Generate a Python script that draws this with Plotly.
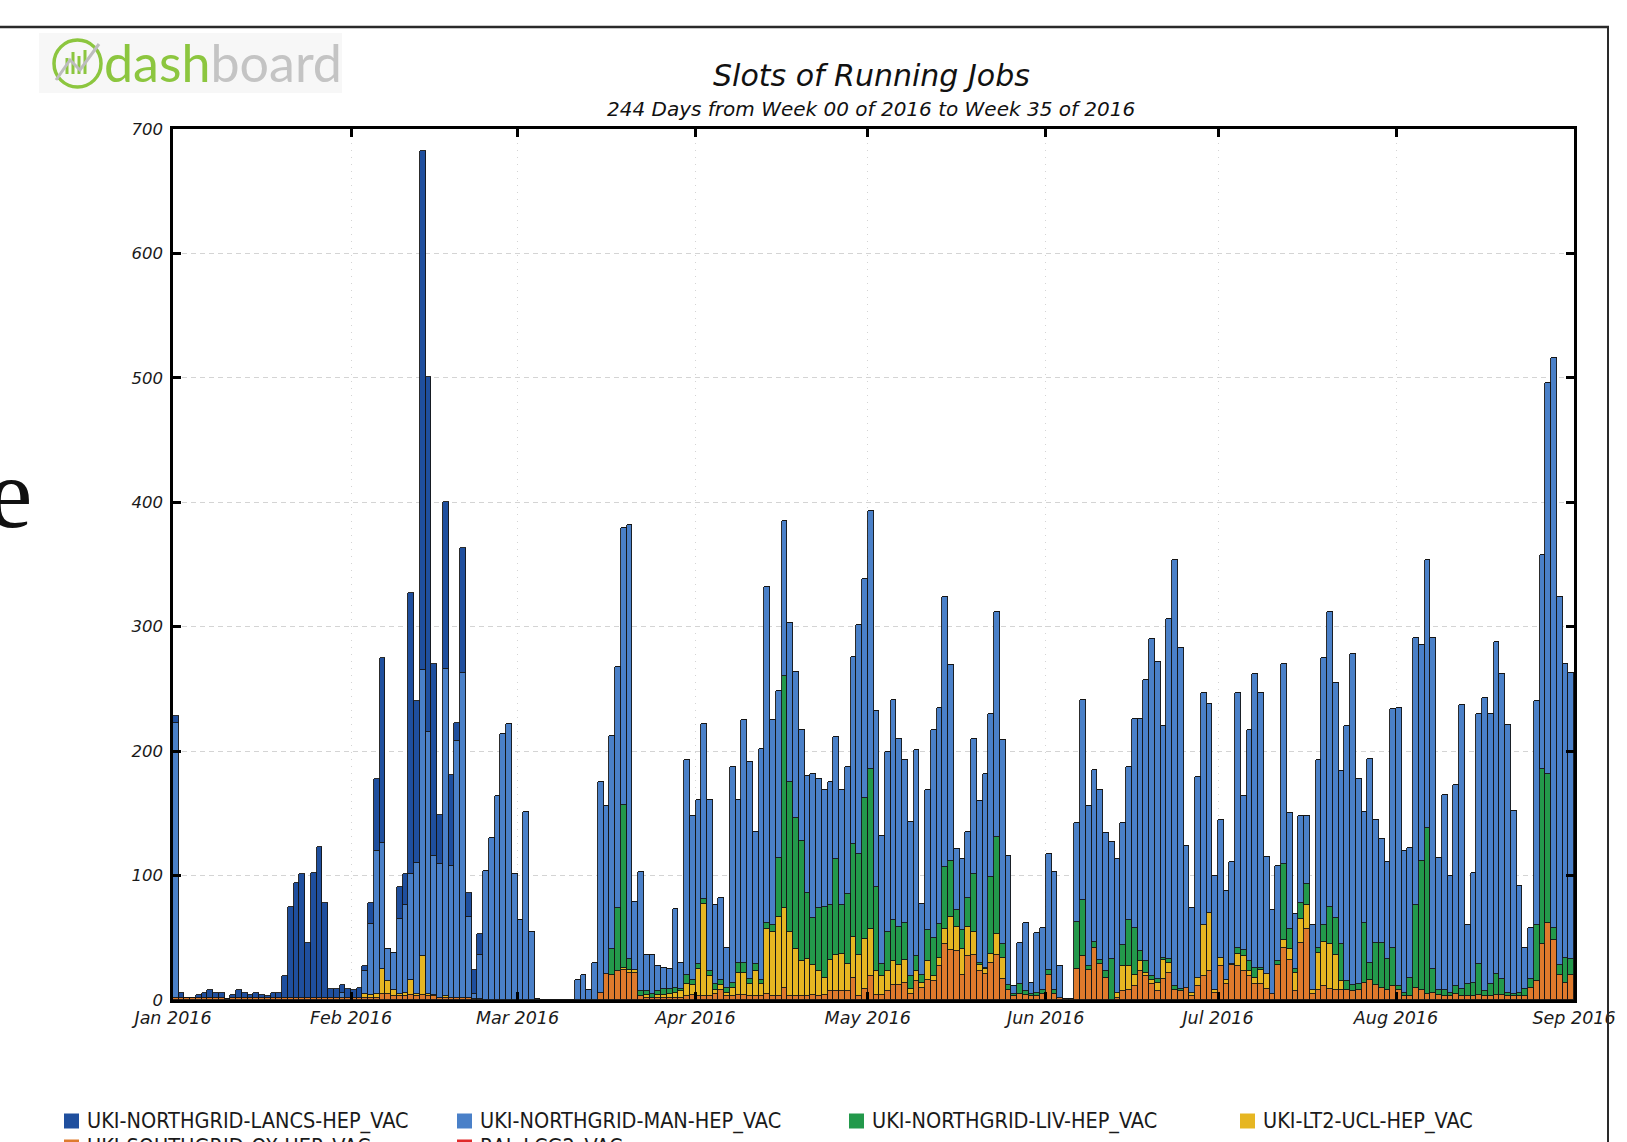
import pandas as pd
import plotly.graph_objects as go

# ---------------- data ----------------
START = "2016-01-01"
N_DAYS = 244
DAYS = pd.date_range(START, periods=N_DAYS, freq="D")
MONTH_TICKS = pd.date_range("2016-01-01", "2016-09-01", freq="MS")
Y_TICKS = [0, 100, 200, 300, 400, 500, 600, 700]

SERIES_NAMES = [
    "UKI-NORTHGRID-LANCS-HEP_VAC",
    "UKI-NORTHGRID-MAN-HEP_VAC",
    "UKI-NORTHGRID-LIV-HEP_VAC",
    "UKI-LT2-UCL-HEP_VAC",
    "UKI-SOUTHGRID-OX-HEP_VAC",
    "RAL-LCG2_VAC",
]
SERIES_COLORS = ["#1f4f9e", "#4a80c8", "#23994b", "#e6b622", "#de7a2c", "#e02a2a"]

LANCS = [
    5, 4, 0, 0, 2, 4, 6, 4, 4, 0, 2, 6, 4, 2, 4, 2, 1, 4, 4, 17,
    73, 92, 99, 44, 100, 121, 76, 7, 7, 6, 7, 6, 8, 4, 17, 58, 149, 0, 0, 26,
    25, 226, 130, 417, 286, 154, 40, 134, 73, 15, 100, 19, 19, 17, 0, 0, 0, 0, 0, 0,
    0, 0, 0, 0, 0, 0, 0, 0, 0, 0, 0, 0, 0, 0, 0, 0, 0, 0, 0, 0,
    0, 0, 0, 0, 0, 0, 0, 0, 0, 0, 0, 0, 0, 0, 0, 0, 0, 0, 0, 0,
    0, 0, 0, 0, 0, 0, 0, 0, 0, 0, 0, 0, 0, 0, 0, 0, 0, 0, 0, 0,
    0, 0, 0, 0, 0, 0, 0, 0, 0, 0, 0, 0, 0, 0, 0, 0, 0, 0, 0, 0,
    0, 0, 0, 0, 0, 0, 0, 0, 0, 0, 0, 0, 0, 0, 0, 0, 0, 0, 0, 0,
    0, 0, 0, 0, 0, 0, 0, 0, 0, 0, 0, 0, 0, 0, 0, 0, 0, 0, 0, 0,
    0, 0, 0, 0, 0, 0, 0, 0, 0, 0, 0, 0, 0, 0, 0, 0, 0, 0, 0, 0,
    0, 0, 0, 0, 0, 0, 0, 0, 0, 0, 0, 0, 0, 0, 0, 0, 0, 0, 0, 0,
    0, 0, 0, 0, 0, 0, 0, 0, 0, 0, 0, 0, 0, 0, 0, 0, 0, 0, 0, 0,
    0, 0, 0, 0,
]
MAN = [
    221, 0, 0, 0, 0, 0, 0, 0, 0, 0, 0, 0, 0, 0, 0, 0, 0, 0, 0, 0,
    0, 0, 0, 0, 0, 0, 0, 0, 0, 4, 0, 0, 0, 18, 57, 115, 101, 26, 30, 60,
    70, 85, 105, 230, 210, 112, 107, 263, 106, 206, 261, 65, 4, 35, 104, 130, 164, 214, 222, 101,
    64, 151, 55, 1, 0, 0, 0, 0, 0, 0, 16, 20, 8, 30, 169, 135, 171, 194, 222, 349,
    55, 96, 29, 31, 20, 17, 16, 63, 21, 173, 132, 132, 141, 138, 63, 66, 32, 173, 131, 195,
    174, 106, 186, 270, 165, 134, 125, 128, 118, 89, 94, 116, 104, 94, 99, 98, 93, 102, 151, 184,
    176, 207, 141, 103, 144, 177, 151, 131, 124, 166, 57, 113, 167, 174, 217, 157, 49, 57, 53, 109,
    130, 156, 131, 181, 164, 104, 6, 33, 55, 9, 48, 50, 93, 95, 25, 0, 0, 79, 161, 129,
    138, 137, 111, 94, 107, 98, 123, 168, 187, 226, 271, 255, 186, 273, 343, 274, 114, 68, 161, 187,
    168, 92, 111, 72, 82, 205, 124, 186, 236, 221, 94, 67, 77, 161, 93, 44, 70, 55, 52, 151,
    215, 237, 189, 139, 205, 266, 165, 89, 164, 99, 83, 78, 192, 224, 114, 104, 215, 173, 216, 266,
    106, 157, 94, 162, 228, 47, 88, 201, 236, 217, 267, 245, 215, 147, 86, 33, 41, 180, 172, 314,
    458, 296, 236, 230,
]
LIV = [
    0, 0, 0, 0, 0, 0, 0, 0, 0, 0, 0, 0, 0, 0, 0, 0, 0, 0, 0, 0,
    0, 0, 0, 0, 0, 0, 0, 0, 0, 0, 0, 0, 0, 0, 0, 0, 0, 0, 0, 0,
    0, 0, 0, 0, 0, 0, 0, 0, 0, 0, 0, 0, 0, 0, 0, 0, 0, 0, 0, 0,
    0, 0, 0, 0, 0, 0, 0, 0, 0, 0, 0, 0, 0, 0, 0, 0, 21, 51, 131, 9,
    0, 4, 3, 3, 3, 5, 4, 4, 2, 7, 4, 4, 4, 4, 5, 4, 4, 4, 8, 8,
    4, 6, 3, 5, 5, 47, 186, 120, 105, 97, 53, 38, 51, 57, 44, 77, 39, 56, 74, 81,
    113, 129, 68, 10, 32, 33, 31, 30, 10, 12, 6, 25, 31, 27, 50, 45, 13, 15, 23, 46,
    2, 1, 62, 78, 11, 4, 2, 8, 3, 2, 3, 3, 4, 3, 0, 0, 0, 38, 45, 3,
    5, 3, 5, 33, 0, 17, 37, 38, 8, 9, 3, 3, 2, 3, 3, 2, 0, 0, 0, 0,
    0, 0, 0, 0, 1, 5, 5, 8, 8, 2, 0, 0, 3, 61, 16, 3, 13, 17, 0, 4,
    13, 30, 30, 30, 7, 5, 5, 48, 14, 34, 36, 25, 31, 3, 3, 15, 66, 104, 133, 19,
    4, 5, 3, 6, 6, 10, 11, 25, 4, 10, 17, 13, 3, 2, 3, 6, 7, 45, 141, 120,
    10, 8, 20, 13,
]
UCL = [
    0, 0, 0, 0, 0, 0, 0, 0, 0, 0, 0, 0, 0, 0, 0, 0, 0, 0, 0, 0,
    0, 0, 0, 0, 0, 0, 0, 0, 0, 0, 0, 0, 0, 3, 2, 3, 20, 10, 5, 2,
    3, 12, 2, 31, 2, 1, 0, 1, 0, 0, 0, 0, 0, 0, 0, 0, 0, 0, 0, 0,
    0, 0, 0, 0, 0, 0, 0, 0, 0, 0, 0, 0, 0, 0, 0, 0, 0, 0, 2, 2,
    2, 0, 2, 0, 2, 2, 3, 4, 5, 10, 8, 22, 74, 16, 3, 4, 3, 7, 18, 18,
    10, 20, 10, 52, 52, 64, 64, 52, 38, 28, 30, 24, 20, 14, 25, 29, 30, 22, 33, 33,
    40, 38, 19, 15, 16, 19, 16, 18, 4, 8, 4, 15, 4, 7, 12, 27, 20, 21, 24, 19,
    5, 4, 7, 17, 17, 0, 0, 0, 0, 0, 0, 0, 0, 0, 0, 0, 0, 0, 0, 0,
    0, 0, 0, 0, 4, 20, 19, 9, 8, 3, 3, 7, 15, 8, 0, 0, 0, 3, 7, 41,
    47, 2, 7, 3, 0, 10, 12, 4, 5, 11, 12, 0, 0, 6, 9, 15, 19, 19, 3, 30,
    36, 36, 28, 7, 0, 0, 0, 0, 0, 0, 0, 0, 0, 0, 0, 0, 0, 0, 0, 0,
    0, 0, 0, 0, 0, 0, 0, 0, 0, 0, 0, 0, 0, 0, 0, 0, 0, 0, 0, 0,
    0, 0, 0, 0,
]
OX = [
    2, 2, 2, 2, 2, 2, 2, 2, 2, 1, 2, 2, 2, 2, 2, 2, 2, 2, 2, 2,
    2, 2, 2, 2, 2, 2, 2, 2, 2, 2, 2, 2, 2, 2, 2, 2, 5, 5, 3, 3,
    3, 4, 3, 4, 3, 3, 2, 2, 2, 2, 2, 2, 1, 1, 0, 0, 0, 0, 0, 0,
    0, 0, 0, 0, 0, 0, 0, 0, 0, 0, 0, 0, 0, 0, 6, 21, 20, 23, 24, 22,
    22, 3, 2, 2, 2, 2, 2, 2, 2, 3, 4, 3, 3, 3, 5, 8, 3, 3, 4, 4,
    3, 3, 3, 5, 3, 3, 10, 3, 3, 3, 3, 4, 3, 4, 7, 7, 7, 7, 18, 3,
    9, 19, 4, 4, 7, 12, 12, 14, 5, 15, 10, 16, 15, 27, 45, 40, 39, 20, 35, 36,
    23, 21, 30, 36, 17, 8, 3, 5, 4, 3, 3, 5, 20, 5, 2, 1, 1, 25, 35, 24,
    42, 29, 18, 0, 2, 7, 8, 11, 23, 19, 13, 7, 17, 22, 8, 7, 10, 3, 11, 19,
    23, 6, 27, 13, 28, 27, 23, 19, 13, 13, 9, 5, 28, 42, 32, 7, 46, 57, 5, 8,
    11, 9, 8, 8, 8, 7, 8, 14, 16, 12, 10, 8, 11, 8, 3, 3, 10, 8, 5, 6,
    4, 3, 3, 5, 3, 3, 3, 4, 3, 3, 4, 4, 3, 3, 3, 3, 10, 15, 45, 62,
    48, 20, 14, 20,
]
RAL = [0] * N_DAYS  # no visible RAL-LCG2_VAC contribution in the picture

# ---------------- geometry ----------------
W, H = 1627, 1142
ML, MR, MT, MB = 173, 53, 129, 142
PW, PH = W - ML - MR, H - MT - MB


def px(xpix):
    return (xpix - ML) / PW


def py(ypix):
    return (H - MB - ypix) / PH


DAY_MS = 86400000
x_centers = DAYS + pd.Timedelta(hours=12)

fig = go.Figure()
stack = [  # bottom -> top
    (RAL, 5), (OX, 4), (UCL, 3), (LIV, 2), (MAN, 1), (LANCS, 0)
]
for values, idx in stack:
    fig.add_trace(go.Bar(
        x=x_centers, y=values, width=DAY_MS,
        name=SERIES_NAMES[idx], showlegend=False,
        marker=dict(color=SERIES_COLORS[idx], line=dict(color="#151515", width=0.9)),
    ))

tick_font = dict(family="DejaVu Sans", size=17.5, color="#1a1a1a", style="italic")
axis_common = dict(
    showline=True, linecolor="black", linewidth=2.5, mirror="ticks",
    ticks="inside", ticklen=8, tickwidth=3, tickcolor="black",
    showgrid=True, gridcolor="#d4d4d4", gridwidth=1, zeroline=False,
    automargin=False,
)

fig.update_layout(
    width=W, height=H, autosize=False,
    margin=dict(l=ML, r=MR, t=MT, b=MB, pad=0),
    paper_bgcolor="white", plot_bgcolor="white",
    barmode="stack", bargap=0,
    showlegend=False,
    xaxis=dict(
        type="date", range=[DAYS[0], MONTH_TICKS[-1]],
        tickvals=MONTH_TICKS, tickformat="%b %Y",
        tickfont=tick_font, griddash="1px,6px", **axis_common,
    ),
    yaxis=dict(
        range=[0, 700], tickvals=Y_TICKS,
        tickfont=dict(tick_font, size=16.5), griddash="5px,4px",
        ticklabelstandoff=4, **axis_common,
    ),
)

annotations = [
    dict(text="Slots of Running Jobs", x=px(871), y=py(76), xanchor="center", yanchor="middle",
         font=dict(family="DejaVu Sans", size=30, color="#111", style="italic")),
    dict(text="244 Days from Week 00 of 2016 to Week 35 of 2016", x=px(871), y=py(109),
         xanchor="center", yanchor="middle",
         font=dict(family="DejaVu Sans", size=20, color="#111", style="italic")),
    dict(text='<span style="color:#8cc63f">dash</span><span style="color:#c4c4c4">board</span>',
         x=px(102), y=py(62), xanchor="left", yanchor="middle",
         font=dict(family="Lato", size=52, weight=400)),
    dict(text="e", x=px(34), y=py(494), xanchor="right", yanchor="middle",
         font=dict(family="Liberation Serif, DejaVu Serif, Noto Serif, serif", size=100, color="#111")),
]

# legend drawn by hand (4 per row, second row cut by the bottom edge)
LEG_COLS = [64, 457, 849, 1240]
LEG_ROWS = [1121, 1147]
shapes = []
for i, (name, color) in enumerate(zip(SERIES_NAMES, SERIES_COLORS)):
    cx = LEG_COLS[i % 4]
    cy = LEG_ROWS[i // 4]
    shapes.append(dict(type="rect", x0=px(cx), x1=px(cx + 15), y0=py(cy + 7.5), y1=py(cy - 7.5),
                       line=dict(width=0), fillcolor=color))
    annotations.append(dict(text=name, x=px(cx + 21), y=py(cy), xanchor="left", yanchor="middle",
                            font=dict(family="DejaVu Sans Condensed, DejaVu Sans", size=21.5,
                                      color="#1a1a1a")))

for a in annotations:
    a.update(xref="paper", yref="paper", showarrow=False)
fig.update_layout(annotations=annotations)

shapes += [
    # faint logo background
    dict(type="rect", x0=px(39), x1=px(342), y0=py(93), y1=py(33),
         line=dict(width=0), fillcolor="#f7f7f7", layer="below"),
    # logo icon
    dict(type="circle", x0=px(54), x1=px(101), y0=py(87), y1=py(40),
         line=dict(color="#8cc63f", width=3.5)),
    dict(type="path", path=f"M {px(67)} {py(74)} L {px(67)} {py(58)} M {px(73)} {py(74)} L {px(73)} {py(52)} "
                           f"M {px(79)} {py(74)} L {px(79)} {py(56)} M {px(85)} {py(74)} L {px(85)} {py(50)}",
         line=dict(color="#8cc63f", width=3)),
    dict(type="path", path=f"M {px(56)} {py(80)} L {px(70)} {py(60)} L {px(80)} {py(70)} L {px(99)} {py(44)}",
         line=dict(color="#bdbdbd", width=3)),
    # page frame lines
    dict(type="line", x0=px(0), x1=px(1609), y0=py(27), y1=py(27),
         line=dict(color="#2a2a2a", width=2.5)),
    dict(type="line", x0=px(1608), x1=px(1608), y0=py(27), y1=py(1150),
         line=dict(color="#2a2a2a", width=2)),
]
for s in shapes:
    s.update(xref="paper", yref="paper")
fig.update_layout(shapes=shapes)

fig.write_html("out.html", config={"displayModeBar": False},
               post_script="document.body.style.margin='0';")
